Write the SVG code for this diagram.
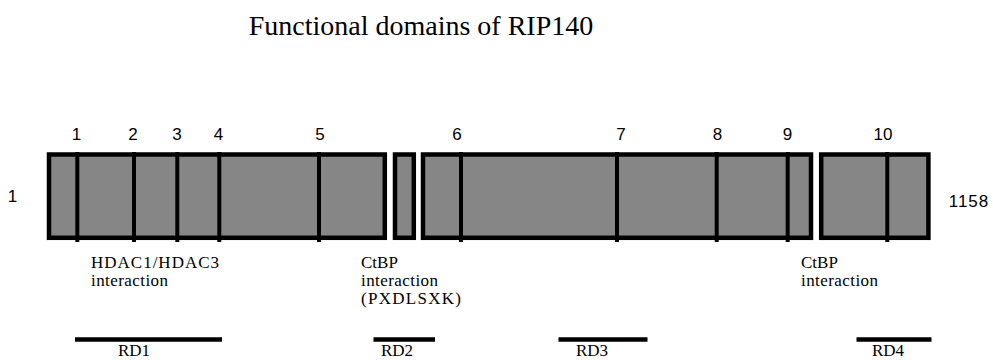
<svg xmlns="http://www.w3.org/2000/svg" width="993" height="360" viewBox="0 0 993 360">
<style>
.seg{fill:#868686;stroke:#000;stroke-width:4.5}
.div{stroke:#000;stroke-width:4}
.num{font-family:"Liberation Sans",Arial,sans-serif;font-size:17px;fill:#000;text-anchor:middle}
.lab{font-family:"Liberation Serif","Times New Roman",serif;font-size:17px;fill:#000}
.rd{stroke:#000;stroke-width:4.5}
.rdt{font-family:"Liberation Serif","Times New Roman",serif;font-size:17px;fill:#000}
.title{font-family:"Liberation Serif","Times New Roman",serif;font-size:28px;fill:#000;text-anchor:middle}
</style>
<rect width="993" height="360" fill="#fff"/>
<text class="title" x="421" y="35">Functional domains of RIP140</text>
<g id="bar">
<rect class="seg" x="49" y="154.5" width="335.8" height="83.3"/>
<rect class="seg" x="395" y="154.5" width="18.8" height="83.3"/>
<rect class="seg" x="423" y="154.5" width="388" height="83.3"/>
<rect class="seg" x="821.2" y="154.5" width="107.2" height="83.3"/>
</g>
<g id="dividers">
<line class="div" x1="77.3" y1="152" x2="77.3" y2="242"/>
<line class="div" x1="134" y1="152" x2="134" y2="242"/>
<line class="div" x1="177.3" y1="152" x2="177.3" y2="242"/>
<line class="div" x1="219.3" y1="152" x2="219.3" y2="242"/>
<line class="div" x1="319" y1="152" x2="319" y2="242"/>
<line class="div" x1="461" y1="152" x2="461" y2="242"/>
<line class="div" x1="617" y1="152" x2="617" y2="242"/>
<line class="div" x1="716.7" y1="152" x2="716.7" y2="242"/>
<line class="div" x1="787.7" y1="152" x2="787.7" y2="242"/>
<line class="div" x1="887.3" y1="152" x2="887.3" y2="242"/>
</g>
<g id="numbers">
<text class="num" x="76.5" y="140">1</text>
<text class="num" x="133" y="140">2</text>
<text class="num" x="177" y="140">3</text>
<text class="num" x="218.5" y="140">4</text>
<text class="num" x="320" y="140">5</text>
<text class="num" x="457" y="140">6</text>
<text class="num" x="621" y="140">7</text>
<text class="num" x="717.5" y="140">8</text>
<text class="num" x="787.5" y="140">9</text>
<text class="num" x="883" y="140">10</text>
<text class="num" x="12.5" y="202">1</text>
<text class="num" x="969" y="207" letter-spacing="1">1158</text>
</g>
<g id="interactions">
<text class="lab" x="91" y="268" textLength="128">HDAC1/HDAC3</text>
<text class="lab" x="91" y="286" textLength="77">interaction</text>
<text class="lab" x="361" y="268">CtBP</text>
<text class="lab" x="361" y="286" textLength="77">interaction</text>
<text class="lab" x="361" y="303.5" textLength="100">(PXDLSXK)</text>
<text class="lab" x="801" y="268">CtBP</text>
<text class="lab" x="801" y="286" textLength="77">interaction</text>
</g>
<g id="rd-regions">
<line class="rd" x1="75" y1="339.5" x2="222" y2="339.5"/>
<line class="rd" x1="373.5" y1="339.5" x2="435" y2="339.5"/>
<line class="rd" x1="558.5" y1="339.5" x2="647.5" y2="339.5"/>
<line class="rd" x1="856.5" y1="339.5" x2="931.5" y2="339.5"/>
<text class="rdt" x="118" y="356">RD1</text>
<text class="rdt" x="381" y="356">RD2</text>
<text class="rdt" x="576" y="356">RD3</text>
<text class="rdt" x="872" y="356">RD4</text>
</g>
</svg>
